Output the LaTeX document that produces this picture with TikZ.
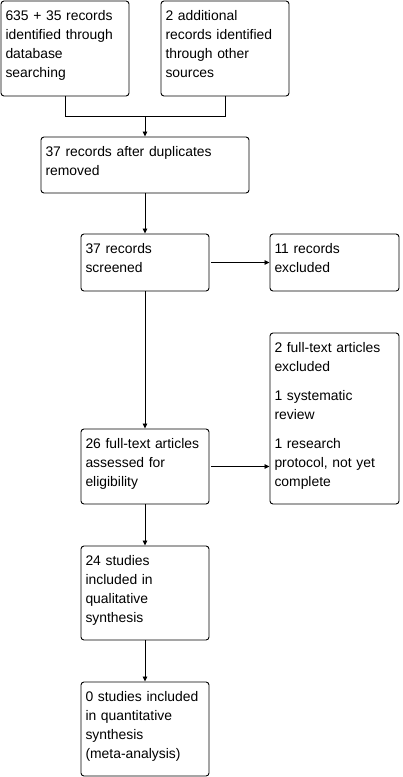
\documentclass[tikz,border=0pt]{standalone}
\usepackage{fontspec}
\setmainfont{Liberation Sans}
\usetikzlibrary{arrows.meta,calc}
\begin{document}
\begin{tikzpicture}[x=1pt,y=-1pt,
  box/.style={draw=black,line width=0.9pt,rounded corners=3pt,inner sep=0pt,outer sep=0pt,anchor=north west,fill=white},
  txt/.style={inner sep=0pt,outer sep=0pt,anchor=north west,align=left,font=\fontsize{13.9}{19}\selectfont,text width=#1},
  txt/.default=124pt,
  conn/.style={line width=0.9pt,draw=black},
  arr/.style={conn,-{Triangle[length=5pt,width=4.5pt]},shorten >=0.5pt}]
\useasboundingbox[fill=white] (0,0) rectangle (402,777);
% boxes
\node[box,minimum width=128pt,minimum height=95pt] (a) at (1,1) {};
\node[box,minimum width=128pt,minimum height=95pt] (b) at (161,1) {};
\node[box,minimum width=208pt,minimum height=56pt] (c) at (41,137) {};
\node[box,minimum width=128pt,minimum height=57pt] (d) at (81,234) {};
\node[box,minimum width=129pt,minimum height=57pt] (e) at (270,234) {};
\node[box,minimum width=129pt,minimum height=171pt] (f) at (270,333) {};
\node[box,minimum width=128pt,minimum height=75pt] (g) at (81,429) {};
\node[box,minimum width=128pt,minimum height=94pt] (h) at (81,546) {};
\node[box,minimum width=128pt,minimum height=94pt] (i) at (81,682) {};
% texts
\node[txt] (ta) at ($(a.north west)+(4.5,5.7)$) {\strut 635 + 35 records\\identified through\\database\\searching};
\node[txt] (tb) at ($(b.north west)+(4.5,5.7)$) {\strut 2 additional\\records identified\\through other\\sources};
\node[txt=200pt] (tc) at ($(c.north west)+(4.5,5.7)$) {\strut 37 records after duplicates\\removed};
\node[txt] (td) at ($(d.north west)+(4.5,5.7)$) {\strut 37 records\\screened};
\node[txt] (te) at ($(e.north west)+(4.5,5.7)$) {\strut 11 records\\excluded};
\node[txt] (tf) at ($(f.north west)+(4.5,5.7)$) {\strut 2 full-text articles\\excluded\\[10pt]1 systematic\\review\\[10pt]1 research\\protocol, not yet\\complete};
\node[txt] (tg) at ($(g.north west)+(4.5,5.7)$) {\strut 26 full-text articles\\assessed for\\eligibility};
\node[txt] (th) at ($(h.north west)+(4.5,5.7)$) {\strut 24 studies\\included in\\qualitative\\synthesis};
\node[txt] (ti) at ($(i.north west)+(4.5,5.7)$) {\strut 0 studies included\\in quantitative\\synthesis\\(meta-analysis)};
% connectors
\coordinate (m) at (c.north |- 0,116);
\draw[conn] (a.south) |- (m);
\draw[conn] (b.south) |- (m);
\draw[arr] (m) -- (c.north);
\draw[arr] (c.south) -- (d.north);
\draw[arr] ([xshift=2pt]d.east) -- (d.east -| e.west);
\draw[arr] (d.south) -- (g.north);
\draw[arr] ([xshift=2pt]g.east) -- (g.east -| f.west);
\draw[arr] (g.south) -- (h.north);
\draw[arr] (h.south) -- (i.north);
\end{tikzpicture}
\end{document}
